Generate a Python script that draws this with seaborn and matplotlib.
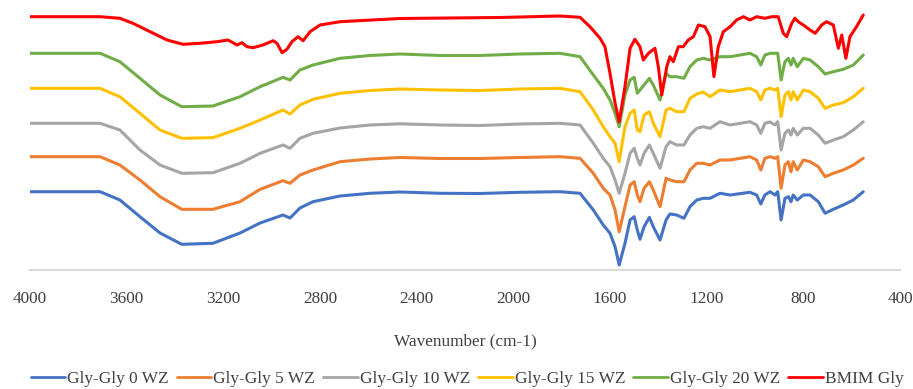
import matplotlib
matplotlib.use("Agg")
import matplotlib.pyplot as plt
import seaborn as sns
import pandas as pd

# Common wavenumber grid for the Gly-Gly spectra (cm-1)
wn_gly = [4000, 3876, 3710, 3628, 3545, 3462, 3372, 3243, 3131, 3048, 2953, 2924, 2883, 2829,
          2717, 2593, 2469, 2303, 2138, 1972, 1807,
          1724, 1669, 1628, 1600, 1579, 1562, 1538, 1517, 1500, 1487, 1476, 1459, 1437, 1421,
          1393, 1368, 1352, 1324, 1294, 1269, 1241, 1214, 1186, 1145, 1103, 1021, 993, 976,
          959, 938, 917, 906, 892, 876, 862, 851, 842, 825, 800, 772, 738, 710, 676, 635, 593, 552]

gly0 = [78.3, 78.3, 78.3, 70, 53.3, 37, 25.7, 26.7, 37, 47, 55, 52, 62, 68.3,
        74, 76.7, 78, 76.7, 76.5, 77.7, 78.3,
        76.7, 60, 45, 36.7, 23.3, 5, 26.7, 50, 53.3, 40, 30.7, 43.3, 52.7, 43.3,
        30, 50, 56, 55, 51.7, 63.3, 70, 71.7, 71.7, 76.7, 75, 77.7, 75, 66,
        75, 78.3, 75, 78.3, 50, 71.7, 73.3, 68.3, 75, 70, 75, 75, 68.3, 56.7, 60.7, 65, 70, 78.3]

gly5 = [113.3, 113.3, 113.3, 105, 90, 73.3, 60.7, 60.7, 68.3, 80.7, 89.3, 86.7, 95, 100,
        108.3, 111, 112.5, 111.5, 111.5, 112.5, 113.3,
        111.7, 96.7, 81.7, 75, 60, 38.3, 63.3, 85, 88.3, 75, 68.3, 81.7, 88.3, 80,
        63.3, 91.7, 90, 88.3, 88.3, 100, 106.7, 106.7, 105, 110, 110, 113.3, 110, 100,
        111.7, 113.3, 111.7, 113.3, 81.7, 105, 108.3, 98.3, 108.3, 100, 110, 108.3, 103.3, 93.3, 96.7, 100, 105, 111.7]

gly10 = [146.7, 146.7, 146.7, 140, 120, 105, 96.7, 97.3, 106.7, 116.7, 125, 121.7, 131.7, 136.7,
         142, 145, 146.2, 145, 144.5, 146, 146.7,
         145, 126.7, 111.7, 103.3, 90, 76.7, 96.7, 116.7, 121.7, 111.7, 105, 116.7, 125, 116.7,
         101.7, 123.3, 128.3, 125, 125, 135, 141.7, 143.3, 141.7, 148.3, 145, 148.3, 145, 136.7,
         146.7, 148, 145, 148.3, 120, 136.7, 140, 135, 141.7, 135, 141.7, 141.7, 135, 126.7, 130, 133.3, 140, 148.3]

gly15 = [181.7, 181.7, 181.7, 173.3, 156.7, 140, 131.7, 132.3, 141.7, 150, 160, 156, 165, 170.7,
         176.7, 179.5, 181, 180, 179.5, 181, 181.7,
         178.3, 160, 143.3, 133.3, 126.7, 108.3, 143.3, 156.7, 160, 140, 138.3, 155, 158.3, 146.7,
         133.3, 160, 161.7, 158.3, 158.3, 171.7, 176, 178, 173.3, 180, 178.3, 181.7, 178.3, 170,
         180, 181.7, 180, 181.7, 153.3, 175, 178.3, 170, 178.3, 170, 180, 178.3, 171.7, 161.7, 165, 167.3, 173.3, 181.7]

gly20 = [216.7, 216.7, 216.7, 208.3, 191.7, 175, 163.3, 164, 173.3, 183.3, 192.7, 190, 200, 205,
         211.7, 214.5, 216, 214.5, 214.5, 216, 216.7,
         213.3, 195, 181.7, 170, 156.7, 143.3, 175, 190, 192.7, 176.7, 180, 185, 191.7, 185,
         170, 196.7, 193.3, 193.3, 191.7, 203.3, 210, 211.7, 210, 213.3, 213.3, 216.7, 213.3, 205,
         215, 216.7, 216.7, 216.7, 190, 208.3, 211.7, 205, 211.7, 203.3, 211.7, 210, 203.3, 196, 198.3, 200.7, 205, 215]

# BMIM Gly spectrum (own wavenumber grid)
wn_bmim = [4000, 3710, 3628, 3574, 3503, 3433, 3367, 3297, 3226, 3181, 3143, 3123, 3102, 3077,
           3036, 2994, 2978, 2957, 2937, 2916, 2891, 2870, 2841, 2800, 2717, 2469, 2055, 1807,
           1724, 1683, 1641, 1621, 1600, 1579, 1562, 1538, 1517, 1497, 1476, 1462, 1441, 1414,
           1400, 1386, 1365, 1352, 1338, 1317, 1297, 1276, 1255, 1234, 1207, 1186, 1170, 1152,
           1131, 1103, 1076, 1048, 1021, 993, 959, 931, 904, 883, 869, 848, 835, 821, 800, 772,
           751, 724, 704, 676, 655, 641, 624, 607, 580, 552]
bmim = [253.3, 253.3, 251.7, 246.7, 238.3, 230, 225.7, 226.7, 228.3, 230, 225, 227.3, 223.3, 222.3,
        225, 229.3, 226.7, 217.3, 220.7, 228.3, 233.3, 229.3, 238.3, 245, 248.3, 251.5, 252.5, 254,
        252.7, 243.3, 231.7, 223.3, 196.7, 166.7, 148.3, 183.3, 221.7, 230.7, 223.3, 210, 216.7, 221.7,
        203.3, 175, 203.3, 213.3, 208.3, 223.3, 223.3, 230, 233.3, 245, 243.3, 233.3, 193.3, 223.3,
        238.3, 243.3, 250, 253.3, 250, 253.3, 251.7, 253.3, 253.3, 236.7, 233.3, 246.7, 251.7, 248.3, 245, 240,
        236.7, 245, 248.3, 245, 221.7, 235, 211.7, 233.3, 243.3, 255]

series_names = ["Gly-Gly 0 WZ", "Gly-Gly 5 WZ", "Gly-Gly 10 WZ", "Gly-Gly 15 WZ", "Gly-Gly 20 WZ", "BMIM Gly"]
colors = ["#4472C4", "#ED7D31", "#A5A5A5", "#FFC000", "#70AD47", "#FF0000"]
x_ticks = [4000, 3600, 3200, 2800, 2400, 2000, 1600, 1200, 800, 400]

frames = []
for name, ys in zip(series_names[:5], [gly0, gly5, gly10, gly15, gly20]):
    frames.append(pd.DataFrame({"Wavenumber": wn_gly, "Value": ys, "Series": name}))
frames.append(pd.DataFrame({"Wavenumber": wn_bmim, "Value": bmim, "Series": series_names[5]}))
df = pd.concat(frames, ignore_index=True)

sns.set_style("white")
plt.rcParams["font.family"] = ["Liberation Serif", "DejaVu Serif"]

fig = plt.figure(figsize=(9.13, 3.89), dpi=100)
ax = fig.add_axes([30 / 913, 119 / 389, 870 / 913, 265 / 389])

sns.lineplot(data=df, x="Wavenumber", y="Value", hue="Series", hue_order=series_names,
             palette=colors, linewidth=2.2, estimator=None, ax=ax)

ax.set_xlim(4000, 400)
ax.set_ylim(0, 265)
ax.set_xticks(x_ticks)
ax.set_xticklabels([str(t) for t in x_ticks], fontsize=12.4, color="#404040")
ax.set_yticks([])
ax.set_ylabel("")
ax.tick_params(axis="x", length=0, pad=15)
ax.set_xlabel("Wavenumber (cm-1)", fontsize=12.4, color="#404040", labelpad=19)
for s in ["top", "right", "left"]:
    ax.spines[s].set_visible(False)
ax.spines["bottom"].set_color("#D9D9D9")
ax.spines["bottom"].set_linewidth(1.5)

handles, labels = ax.get_legend_handles_labels()
for h in handles:
    h.set_linewidth(2.0)
ax.legend(handles, labels, loc="center", bbox_to_anchor=(467 / 913, 1 - 379 / 389),
          bbox_transform=fig.transFigure, ncol=6, frameon=False, fontsize=12.4,
          handlelength=2.0, handletextpad=0.12, columnspacing=0.47, labelcolor="#404040",
          borderaxespad=0, borderpad=0)

fig.savefig("out.png", dpi=100)
